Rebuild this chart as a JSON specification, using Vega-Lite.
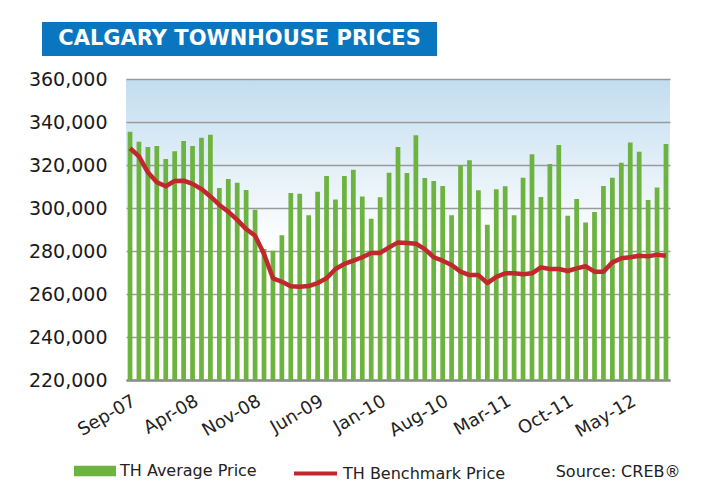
{
  "$schema": "https://vega.github.io/schema/vega-lite/v6.json",
  "background": "white",
  "padding": {"left": 10, "top": 19, "right": 0, "bottom": 0},
  "spacing": 14,
  "config": {
    "font": "DejaVu Sans",
    "view": {"stroke": null}
  },
  "datasets": {
    "prices": [
      {"month": "Sep-07", "avg": 335500, "bench": 327800},
      {"month": "Oct-07", "avg": 330800, "bench": 324000},
      {"month": "Nov-07", "avg": 328400, "bench": 316600},
      {"month": "Dec-07", "avg": 328800, "bench": 312000},
      {"month": "Jan-08", "avg": 322800, "bench": 310100},
      {"month": "Feb-08", "avg": 326400, "bench": 312600},
      {"month": "Mar-08", "avg": 331200, "bench": 312700},
      {"month": "Apr-08", "avg": 328800, "bench": 311200},
      {"month": "May-08", "avg": 332700, "bench": 308800},
      {"month": "Jun-08", "avg": 334100, "bench": 305400},
      {"month": "Jul-08", "avg": 309300, "bench": 301400},
      {"month": "Aug-08", "avg": 313500, "bench": 298300},
      {"month": "Sep-08", "avg": 311800, "bench": 294500},
      {"month": "Oct-08", "avg": 308400, "bench": 290200},
      {"month": "Nov-08", "avg": 299200, "bench": 287100},
      {"month": "Dec-08", "avg": 280900, "bench": 278600},
      {"month": "Jan-09", "avg": 280100, "bench": 267300},
      {"month": "Feb-09", "avg": 287300, "bench": 265700},
      {"month": "Mar-09", "avg": 307000, "bench": 263600},
      {"month": "Apr-09", "avg": 306600, "bench": 263400},
      {"month": "May-09", "avg": 296600, "bench": 263700},
      {"month": "Jun-09", "avg": 307600, "bench": 265100},
      {"month": "Jul-09", "avg": 314900, "bench": 267300},
      {"month": "Aug-09", "avg": 304000, "bench": 271600},
      {"month": "Sep-09", "avg": 314900, "bench": 274000},
      {"month": "Oct-09", "avg": 317800, "bench": 275500},
      {"month": "Nov-09", "avg": 305400, "bench": 277100},
      {"month": "Dec-09", "avg": 295000, "bench": 279100},
      {"month": "Jan-10", "avg": 305000, "bench": 279100},
      {"month": "Feb-10", "avg": 316400, "bench": 281700},
      {"month": "Mar-10", "avg": 328400, "bench": 284000},
      {"month": "Apr-10", "avg": 316300, "bench": 283700},
      {"month": "May-10", "avg": 333800, "bench": 283400},
      {"month": "Jun-10", "avg": 313900, "bench": 280900},
      {"month": "Jul-10", "avg": 312600, "bench": 277100},
      {"month": "Aug-10", "avg": 310200, "bench": 275500},
      {"month": "Sep-10", "avg": 296600, "bench": 273500},
      {"month": "Oct-10", "avg": 319800, "bench": 270400},
      {"month": "Nov-10", "avg": 322200, "bench": 268800},
      {"month": "Dec-10", "avg": 308200, "bench": 268800},
      {"month": "Jan-11", "avg": 292200, "bench": 265100},
      {"month": "Feb-11", "avg": 308700, "bench": 268000},
      {"month": "Mar-11", "avg": 310100, "bench": 269600},
      {"month": "Apr-11", "avg": 296600, "bench": 269600},
      {"month": "May-11", "avg": 314100, "bench": 269200},
      {"month": "Jun-11", "avg": 325000, "bench": 269600},
      {"month": "Jul-11", "avg": 305100, "bench": 272400},
      {"month": "Aug-11", "avg": 320500, "bench": 271600},
      {"month": "Sep-11", "avg": 329300, "bench": 271600},
      {"month": "Oct-11", "avg": 296400, "bench": 270700},
      {"month": "Nov-11", "avg": 304200, "bench": 271900},
      {"month": "Dec-11", "avg": 293300, "bench": 272900},
      {"month": "Jan-12", "avg": 298100, "bench": 270400},
      {"month": "Feb-12", "avg": 310200, "bench": 270400},
      {"month": "Mar-12", "avg": 314100, "bench": 274700},
      {"month": "Apr-12", "avg": 321100, "bench": 276600},
      {"month": "May-12", "avg": 330500, "bench": 277100},
      {"month": "Jun-12", "avg": 326200, "bench": 277800},
      {"month": "Jul-12", "avg": 303700, "bench": 277500},
      {"month": "Aug-12", "avg": 309500, "bench": 278300},
      {"month": "Sep-12", "avg": 329800, "bench": 277800}
    ]
  },
  "vconcat": [
    {
      "spacing": 0,
      "hconcat": [
        {
          "width": 32,
          "height": 1,
          "data": {"values": [{"s": 0}]},
          "mark": {"type": "point", "opacity": 0},
          "encoding": {}
        },
        {
          "width": 395,
          "height": 34,
          "view": {"fill": "#0a76bf", "stroke": null},
          "data": {"values": [{"t": "CALGARY TOWNHOUSE PRICES"}]},
          "mark": {"type": "text", "color": "white", "font": "DejaVu Sans", "fontSize": 21, "fontWeight": "bold", "baseline": "middle", "align": "center"},
          "encoding": {
            "text": {"field": "t", "type": "nominal"}
          }
        }
      ]
    },
    {
      "spacing": 0,
      "hconcat": [
        {
          "width": 18,
          "height": 1,
          "data": {"values": [{"s": 0}]},
          "mark": {"type": "point", "opacity": 0},
          "encoding": {}
        },
        {
          "width": 544,
          "height": 301,
          "view": {
            "stroke": null,
            "fill": {"gradient": "linear", "x1": 0, "y1": 0, "x2": 0, "y2": 1,
                     "stops": [{"offset": 0, "color": "#c2ddf0"}, {"offset": 0.55, "color": "#ffffff"}, {"offset": 1, "color": "#ffffff"}]}
          },
          "data": {"name": "prices"},
          "encoding": {
            "x": {
              "field": "month", "type": "ordinal", "sort": null,
              "scale": {"paddingInner": 0.47, "paddingOuter": 0.185},
              "axis": {
                "values": ["Sep-07", "Apr-08", "Nov-08", "Jun-09", "Jan-10", "Aug-10", "Mar-11", "Oct-11", "May-12"],
                "labelAngle": -30, "labelAlign": "right", "labelBaseline": "top",
                "labelFontSize": 18, "labelColor": "#222222", "labelPadding": 12,
                "ticks": false, "domainColor": "#8c8c8c", "domainWidth": 2.5,
                "title": "Source: CREB®", "titleX": 554, "titleY": 96, "titleAlign": "right",
                "titleBaseline": "alphabetic", "titleFontSize": 16, "titleFontWeight": "normal", "titleColor": "#222222"
              }
            }
          },
          "layer": [
            {
              "mark": {"type": "bar"},
              "encoding": {
                "y": {
                  "field": "avg", "type": "quantitative",
                  "scale": {"domain": [220000, 360000], "zero": false, "nice": false},
                  "axis": {
                    "values": [220000, 240000, 260000, 280000, 300000, 320000, 340000, 360000],
                    "format": ",d", "labelFontSize": 19, "labelColor": "#1a1a1a", "labelPadding": 19,
                    "ticks": false, "domain": false, "gridColor": "#9a9a9a", "gridWidth": 1.5, "title": null
                  }
                },
                "y2": {"datum": 220000},
                "fill": {
                  "datum": "TH Average Price", "type": "nominal",
                  "scale": {"range": ["#6db33f"]},
                  "legend": {
                    "orient": "none", "legendX": 64, "legendY": 428, "title": null,
                    "symbolType": "M-1,-0.25H1V0.25H-1Z", "symbolSize": 1764, "symbolStrokeWidth": 0,
                    "labelFontSize": 16, "labelColor": "#222222", "labelOffset": 4, "labelLimit": 300
                  }
                }
              }
            },
            {
              "mark": {"type": "line", "strokeWidth": 4.5, "strokeJoin": "round"},
              "encoding": {
                "y": {"field": "bench", "type": "quantitative"},
                "stroke": {
                  "datum": "TH Benchmark Price", "type": "nominal",
                  "scale": {"range": ["#c1272d"]},
                  "legend": {
                    "orient": "none", "legendX": 282, "legendY": 428, "title": null,
                    "symbolType": "stroke", "symbolSize": 1849, "symbolStrokeWidth": 4,
                    "labelFontSize": 16, "labelColor": "#222222", "labelOffset": 4, "labelLimit": 300
                  }
                }
              }
            }
          ]
        }
      ]
    }
  ]
}
